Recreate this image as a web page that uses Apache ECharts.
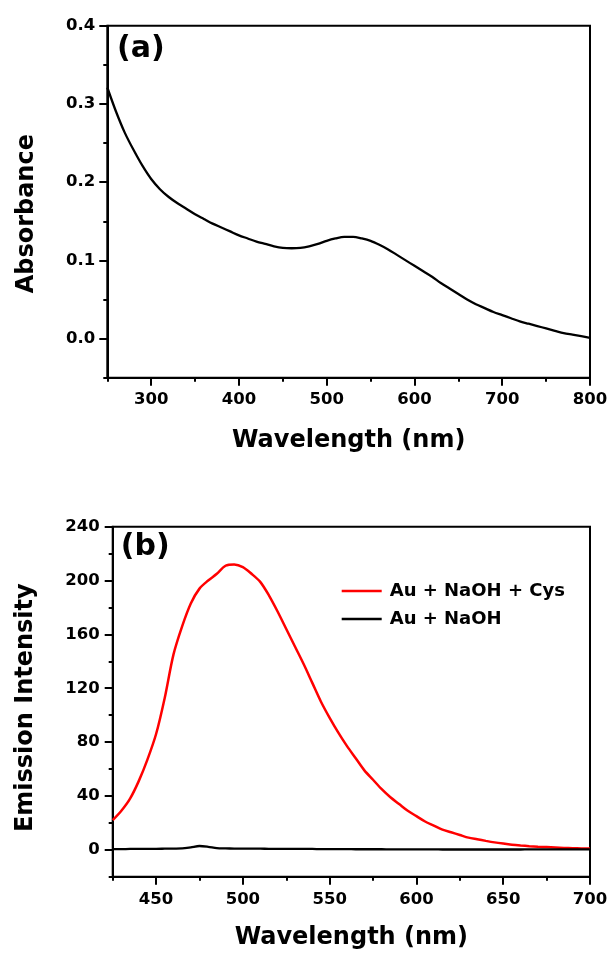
<!DOCTYPE html>
<html>
<head>
<meta charset="utf-8">
<title>Absorbance and emission spectra</title>
<script src="https://cdn.jsdelivr.net/npm/echarts@6/dist/echarts.min.js"></script>
<style>
  html, body { margin: 0; padding: 0; background: #fff; }
  #chart { width: 611px; height: 955px; }
</style>
</head>
<body>
<div id="chart"></div>
<script>
// ---- (a) UV-vis absorbance spectrum ----
const absWavelength = [250, 260, 270, 280, 290, 300, 310, 320, 330, 340, 350, 360, 370, 380, 390,
  400, 410, 420, 430, 440, 450, 460, 470, 480, 490, 500, 510, 520, 530, 540, 550, 560, 570, 580, 590,
  600, 610, 620, 630, 640, 650, 660, 670, 680, 690, 700, 710, 720, 730, 740, 750, 760, 770, 780, 790, 800];
const absorbance = [0.321, 0.290, 0.263, 0.241, 0.221, 0.204, 0.191, 0.181, 0.173, 0.166, 0.159, 0.153, 0.147, 0.142, 0.137,
  0.132, 0.128, 0.124, 0.121, 0.118, 0.116, 0.1155, 0.116, 0.118, 0.121, 0.125, 0.128, 0.130, 0.130, 0.128, 0.125, 0.120, 0.114, 0.107, 0.100,
  0.093, 0.086, 0.079, 0.071, 0.064, 0.057, 0.050, 0.044, 0.039, 0.034, 0.030, 0.026, 0.022, 0.019, 0.016, 0.013, 0.010, 0.007, 0.005, 0.003, 0.001];

// ---- (b) fluorescence emission spectra ----
const emWavelength = [425, 430, 435, 440, 445, 450, 455, 460, 465, 470, 475, 480, 485, 490, 495, 500,
  505, 510, 515, 520, 525, 530, 535, 540, 545, 550, 555, 560, 565, 570, 575, 580, 585, 590, 595, 600,
  605, 610, 615, 620, 625, 630, 635, 640, 645, 650, 655, 660, 665, 670, 675, 680, 685, 690, 695, 700];
const emissionCys = [22, 29, 38, 51, 67, 86, 113, 145, 166, 183, 194, 200, 205, 211, 212, 210,
  205, 199, 189, 177, 164, 151, 138, 124, 110, 98, 87, 77, 68, 59, 52, 45, 39, 34, 29, 25,
  21, 18, 15, 13, 11, 9, 7.8, 6.6, 5.5, 4.6, 3.8, 3.2, 2.7, 2.3, 2.0, 1.7, 1.4, 1.2, 1.0, 0.9];
const emissionNoCys = [0.5, 0.5, 0.6, 0.6, 0.7, 0.7, 0.8, 0.9, 1.0, 1.8, 2.8, 2.2, 1.2, 1.0, 0.9, 0.8,
  0.8, 0.8, 0.7, 0.7, 0.7, 0.6, 0.6, 0.6, 0.5, 0.5, 0.5, 0.5, 0.4, 0.4, 0.4, 0.4, 0.3, 0.3, 0.3, 0.3,
  0.3, 0.3, 0.2, 0.2, 0.2, 0.2, 0.2, 0.2, 0.2, 0.2, 0.2, 0.2, 0.3, 0.3, 0.3, 0.3, 0.3, 0.3, 0.3, 0.3];
const seriesNames = ['Au + NaOH + Cys', 'Au + NaOH'];

// ---- tick positions ----
const absXMajor = [300, 400, 500, 600, 700, 800];
const absXMinor = [250, 350, 450, 550, 650, 750];
const absYMajor = [0, 0.1, 0.2, 0.3, 0.4];
const absYMinor = [-0.05, 0.05, 0.15, 0.25, 0.35];
const emXMajor = [450, 500, 550, 600, 650, 700];
const emXMinor = [425, 475, 525, 575, 625, 675];
const emYMajor = [0, 40, 80, 120, 160, 200, 240];
const emYMinor = [-20, 20, 60, 100, 140, 180, 220];

const FONT = 'DejaVu Sans';
const zip = (xs, ys) => xs.map((x, i) => [x, ys[i]]);

const axisLineStyle = { color: '#000', width: 2 };
const tickFont = { color: '#000', fontFamily: FONT, fontWeight: 'bold', fontSize: 16.5 };
const titleFont = { color: '#000', fontFamily: FONT, fontWeight: 'bold', fontSize: 24 };

function majorAxis(gridIndex, min, max, ticks, extra) {
  return Object.assign({
    gridIndex, type: 'value', min, max,
    axisLine: { show: true, onZero: false, lineStyle: axisLineStyle },
    axisTick: { show: true, inside: false, length: 8, customValues: ticks, lineStyle: axisLineStyle },
    axisLabel: Object.assign({ customValues: ticks }, tickFont),
    splitLine: { show: false },
    nameLocation: 'middle',
    nameTextStyle: titleFont
  }, extra);
}
function minorAxis(gridIndex, min, max, ticks, position) {
  return {
    gridIndex, type: 'value', min, max, position,
    axisLine: { show: false, onZero: false },
    axisTick: { show: true, inside: false, length: 4, customValues: ticks, lineStyle: axisLineStyle },
    axisLabel: { show: false },
    splitLine: { show: false }
  };
}

const chart = echarts.init(document.getElementById('chart'), null, { renderer: 'canvas' });
chart.setOption({
  backgroundColor: '#fff',
  animation: false,
  grid: [
    { left: 107.3, right: 21, top: 25.7, height: 352, show: true, borderColor: '#000', borderWidth: 2, backgroundColor: 'transparent' },
    { left: 112.7, right: 21, top: 526.7, height: 350, show: true, borderColor: '#000', borderWidth: 2, backgroundColor: 'transparent' }
  ],
  xAxis: [
    majorAxis(0, 250, 800, absXMajor, {
      position: 'bottom', name: 'Wavelength (nm)', nameGap: 51,
      axisLabel: Object.assign({ customValues: absXMajor, margin: 14 }, tickFont)
    }),
    minorAxis(0, 250, 800, absXMinor, 'bottom'),
    majorAxis(1, 425, 700, emXMajor, {
      position: 'bottom', name: 'Wavelength (nm)', nameGap: 49,
      axisLabel: Object.assign({ customValues: emXMajor, margin: 15 }, tickFont)
    }),
    minorAxis(1, 425, 700, emXMinor, 'bottom')
  ],
  yAxis: [
    majorAxis(0, -0.05, 0.4, absYMajor, {
      position: 'left', name: 'Absorbance', nameGap: 69,
      nameTextStyle: Object.assign({ padding: [0, 24, 0, 0] }, titleFont),
      axisLabel: Object.assign({ customValues: absYMajor, margin: 12, formatter: v => v.toFixed(1) }, tickFont)
    }),
    minorAxis(0, -0.05, 0.4, absYMinor, 'left'),
    majorAxis(1, -20, 240, emYMajor, {
      position: 'left', name: 'Emission Intensity', nameGap: 75,
      nameTextStyle: Object.assign({ padding: [0, 12, 0, 0] }, titleFont),
      axisLabel: Object.assign({ customValues: emYMajor, margin: 13 }, tickFont)
    }),
    minorAxis(1, -20, 240, emYMinor, 'left')
  ],
  legend: {
    data: seriesNames,
    icon: 'rect',
    orient: 'vertical',
    left: 341.7,
    top: 582,
    padding: 0,
    itemWidth: 40,
    itemHeight: 2.5,
    itemGap: 10,
    textStyle: { color: '#000', fontFamily: FONT, fontWeight: 'bold', fontSize: 18, lineHeight: 18, padding: [0, 0, 0, 3] }
  },
  graphic: [
    { type: 'text', left: 117, top: 34, style: { text: '(a)', fill: '#000', font: 'bold 30px "DejaVu Sans"' } },
    { type: 'text', left: 120.7, top: 532, style: { text: '(b)', fill: '#000', font: 'bold 30px "DejaVu Sans"' } }
  ],
  series: [
    {
      type: 'line', xAxisIndex: 0, yAxisIndex: 0,
      data: zip(absWavelength, absorbance),
      symbol: 'none', smooth: 0.3,
      lineStyle: { color: '#000', width: 2.3 }
    },
    {
      name: seriesNames[0], type: 'line', xAxisIndex: 2, yAxisIndex: 2,
      data: zip(emWavelength, emissionCys),
      symbol: 'none', smooth: 0.3,
      itemStyle: { color: '#ff0000' },
      lineStyle: { color: '#ff0000', width: 2.5 }
    },
    {
      name: seriesNames[1], type: 'line', xAxisIndex: 2, yAxisIndex: 2,
      data: zip(emWavelength, emissionNoCys),
      symbol: 'none', smooth: 0.3,
      itemStyle: { color: '#000' },
      lineStyle: { color: '#000', width: 2.3 }
    }
  ]
});
</script>
</body>
</html>
